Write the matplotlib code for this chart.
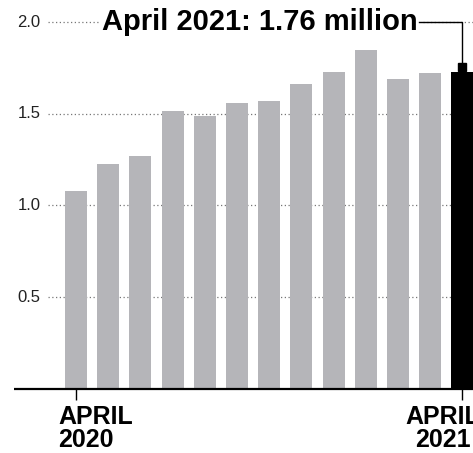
import numpy as np
import matplotlib.pyplot as plt

# Monthly values (millions), April 2020 .. April 2021
months = ["Apr 2020", "May", "Jun", "Jul", "Aug", "Sep", "Oct", "Nov", "Dec",
          "Jan 2021", "Feb", "Mar", "Apr 2021"]
values = [1.08, 1.225, 1.27, 1.515, 1.49, 1.56, 1.57, 1.66, 1.73, 1.85, 1.69, 1.72, 1.73]
yticks = [0.5, 1.0, 1.5, 2.0]
ytick_labels = ["0.5", "1.0", "1.5", "2.0"]
title_text = "April 2021: 1.76 million"
xlabels = ["APRIL\n2020", "APRIL\n2021"]

plain = ["Liberation Sans", "DejaVu Sans"]

fig = plt.figure(figsize=(4.73, 4.53), dpi=100)
ax = fig.add_axes([0, 0, 1, 1])
ax.set_xlim(-2.36, 12.33)
ax.set_ylim(-0.349, 2.12)
ax.axis("off")

x = np.arange(len(values))
colors = ["#b5b5b9"] * (len(values) - 1) + ["#000000"]
ax.bar(x, values, width=0.68, color=colors, zorder=2)

# dotted gridlines with labels on the left
for t, lab in zip(yticks, ytick_labels):
    ax.hlines(t, -0.87, 12.5, colors="#777777", linestyles=(0, (1, 2)), lw=0.9, zorder=1)
    ax.text(-1.1, t, lab, ha="right", va="center", fontsize=12,
            family=plain, color="#222222")

# baseline and ticks
ax.hlines(0, -1.93, 12.5, colors="black", lw=1.6, zorder=3)
for i in (0, len(values) - 1):
    ax.vlines(i, -0.06, 0, colors="black", lw=1.0, zorder=3)

# x labels (the second one runs off the right edge, as in the original crop)
ax.text(-0.56, -0.085, xlabels[0], ha="left", va="top", fontsize=18,
        fontweight="bold", family=plain, linespacing=0.95)
ax.text(11.4, -0.085, xlabels[1], ha="center", va="top", fontsize=18,
        fontweight="bold", family=plain, linespacing=0.95, clip_on=True)

# title with connector to last bar
ax.text(5.71, 2.0, title_text, ha="center", va="center", fontsize=21,
        fontweight="bold", family=plain, zorder=4,
        bbox=dict(facecolor="white", edgecolor="none", pad=2))
last = len(values) - 1
ax.plot([10.65, last, last], [2.0, 2.0, values[-1] + 0.04], color="black", lw=1.0, zorder=4)
ax.plot([last], [values[-1] + 0.025], marker="s", ms=5.5, color="black", zorder=4)

fig.savefig("out.png", dpi=100)
